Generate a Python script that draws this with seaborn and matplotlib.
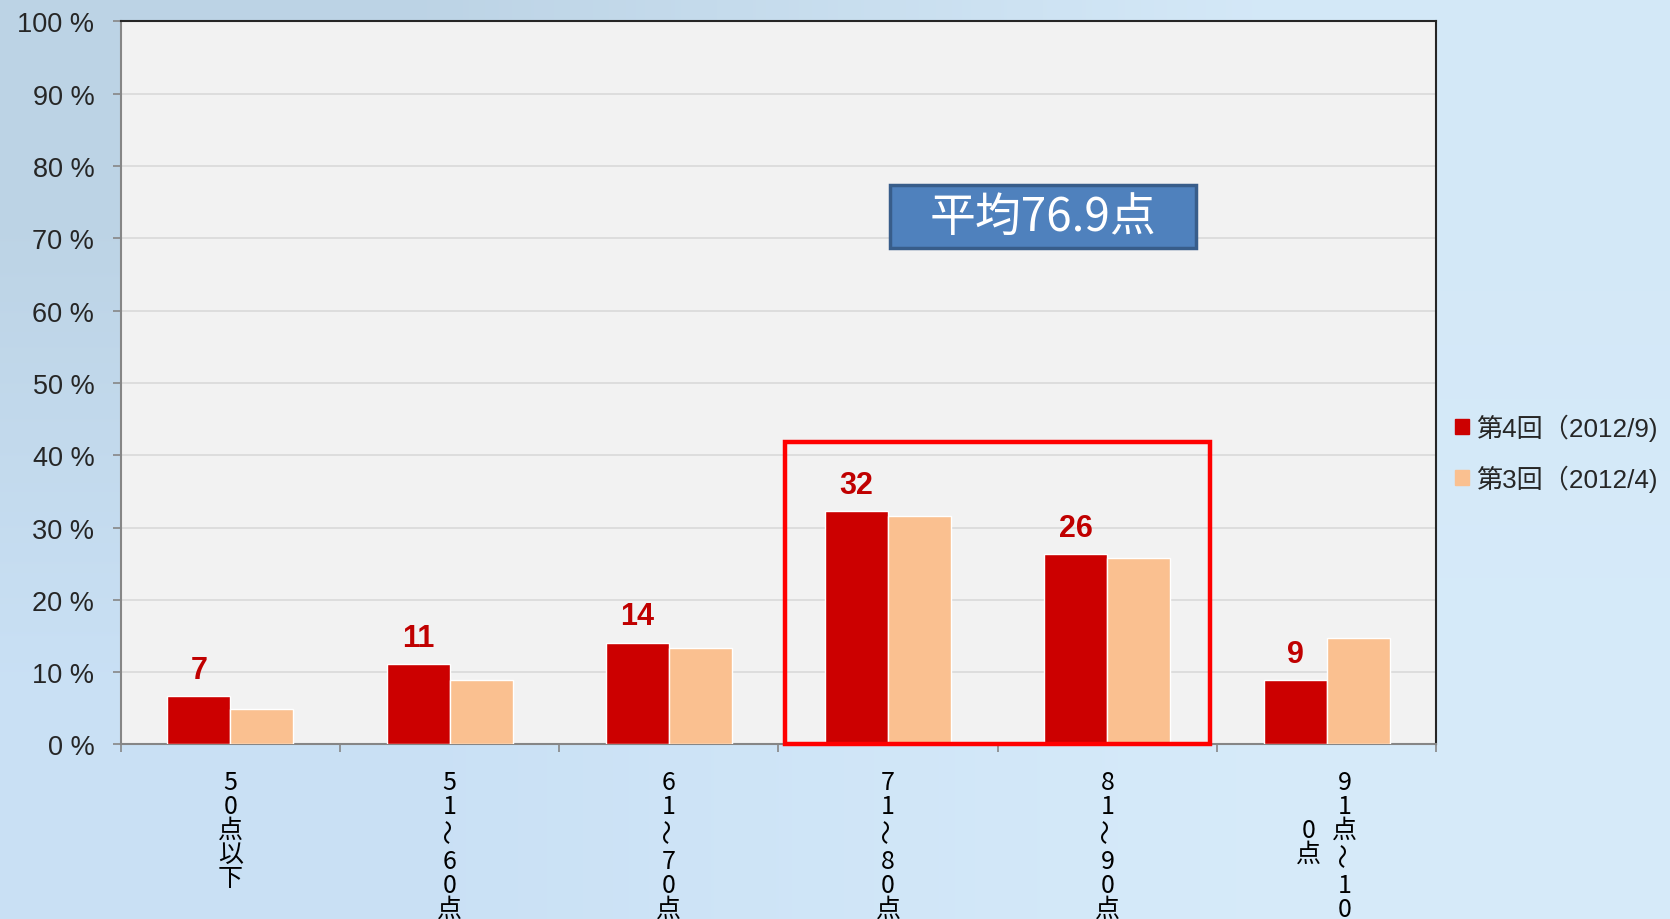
import numpy as np
import pandas as pd
import matplotlib
matplotlib.use("Agg")
import matplotlib.pyplot as plt
import seaborn as sns
from matplotlib.patches import Rectangle, Patch

# ---- data ----
categories = ["50点以下", "51～60点", "61～70点", "71～80点", "81～90点", "91点～100点"]
series = ["第4回（2012/9)", "第3回（2012/4)"]
round4 = [6.7, 11.1, 14.1, 32.3, 26.3, 8.9]
round3 = [4.9, 8.9, 13.3, 31.6, 25.8, 14.7]
value_labels = ["7", "11", "14", "32", "26", "9"]
y_ticks = [0, 10, 20, 30, 40, 50, 60, 70, 80, 90, 100]
y_tick_labels = [f"{v} %" for v in y_ticks]
avg_text = "平均76.9点"

sns.set_theme(style="white")
plt.rcParams['font.family'] = ['Liberation Sans', 'Noto Sans CJK JP', 'DejaVu Sans']

DPI = 100
fig = plt.figure(figsize=(16.7, 9.2), dpi=DPI)

# background gradient (sky-like)
bg = fig.add_axes([0, 0, 1, 1], zorder=-10)
img = np.array([[[0.74, 0.83, 0.90], [0.83, 0.91, 0.97]],
                [[0.79, 0.88, 0.96], [0.84, 0.92, 0.98]]])
bg.imshow(img, extent=[0, 1, 0, 1], aspect='auto', interpolation='bilinear')
bg.axis('off')

ax = fig.add_axes([0.0723, 0.1897, 0.86 - 0.0723, 0.9757 - 0.1897])
ax.set_facecolor('#f2f2f2')

df = pd.DataFrame({
    "category": categories * 2,
    "series": [series[0]] * len(categories) + [series[1]] * len(categories),
    "value": round4 + round3,
})
palette = {series[0]: "#cc0000", series[1]: "#fac090"}
sns.barplot(data=df, x="category", y="value", hue="series", order=categories,
            hue_order=series, palette=palette, width=0.575, saturation=1,
            errorbar=None, legend=False, ax=ax, zorder=3)

ax.set_xlim(-0.5, len(categories) - 0.5)
ax.set_ylim(0, 100)
ax.set_yticks(y_ticks)
ax.set_yticklabels(y_tick_labels, fontsize=19.5)
ax.yaxis.grid(True, color='#d9d9d9', lw=1.2)
ax.set_axisbelow(True)
ax.set_xlabel("")
ax.set_ylabel("")

ax.set_xticks(np.arange(-0.5, len(categories), 1.0))
ax.set_xticklabels([])
ax.tick_params(axis='both', left=True, bottom=True, length=6, width=1.2,
               color='#868686', direction='out')
ax.tick_params(axis='y', pad=13)

for s in ['left', 'bottom']:
    ax.spines[s].set_color('#868686')
    ax.spines[s].set_linewidth(1.5)
for s in ['top', 'right']:
    ax.spines[s].set_color('#262626')
    ax.spines[s].set_linewidth(1.5)

# value labels on first series
ax.bar_label(ax.containers[0], labels=value_labels, padding=8, fontsize=22,
             fontweight='bold', color='#c00000')

# vertical stacked category labels, one character per row
trans = ax.get_xaxis_transform()
PT = 72.0 / DPI
STEP = 24.0      # px between normal rows
FIRST = 37.5     # px from axis to first row centre

def draw_column(text, x, dx_px, start_px):
    y = start_px
    prev_tilde = False
    for k, ch in enumerate(text):
        if k > 0:
            y += 24.0 if ch == "～" else (31.0 if prev_tilde else STEP)
        is_tilde = ch == "～"
        ax.annotate(ch, xy=(x, 0), xycoords=trans,
                    xytext=(dx_px * PT, -y * PT), textcoords='offset points',
                    ha='center', va='center', fontsize=18,
                    rotation=90 if is_tilde else 0,
                    family=['Noto Sans CJK JP', 'DejaVu Sans'],
                    color='black', annotation_clip=False)
        prev_tilde = is_tilde

for i, cat in enumerate(categories):
    if len(cat) <= 6:
        draw_column(cat, i, 0, FIRST)
    else:
        draw_column(cat[:6], i, 18, FIRST)
        draw_column(cat[6:], i, -18, FIRST + 2 * STEP)

# highlight box around 71-90
ax.add_patch(Rectangle((2.53, 0), 1.94, 41.8, fill=False, ec='#ff0000',
                       lw=3.2, clip_on=False, zorder=6))

# average box
ax.add_patch(Rectangle((3.01, 68.7), 1.395, 8.7, fc='#4f81bd', ec='#385d8a',
                       lw=2.5, zorder=6))
ax.text(3.01 + 1.395 / 2, 68.7 + 8.7 / 2, avg_text, ha='center', va='center',
        fontsize=33, color='white', family=['Noto Sans CJK JP'], zorder=7)

# legend
handles = [Patch(color=palette[s]) for s in series]
fig.legend(handles, series, loc='center left', bbox_to_anchor=(0.8650, 0.507),
           frameon=False, fontsize=18.8, handlelength=0.55, handleheight=0.55,
           handletextpad=0.25, labelspacing=0.9, borderaxespad=0)

fig.savefig("out.png", dpi=DPI)
